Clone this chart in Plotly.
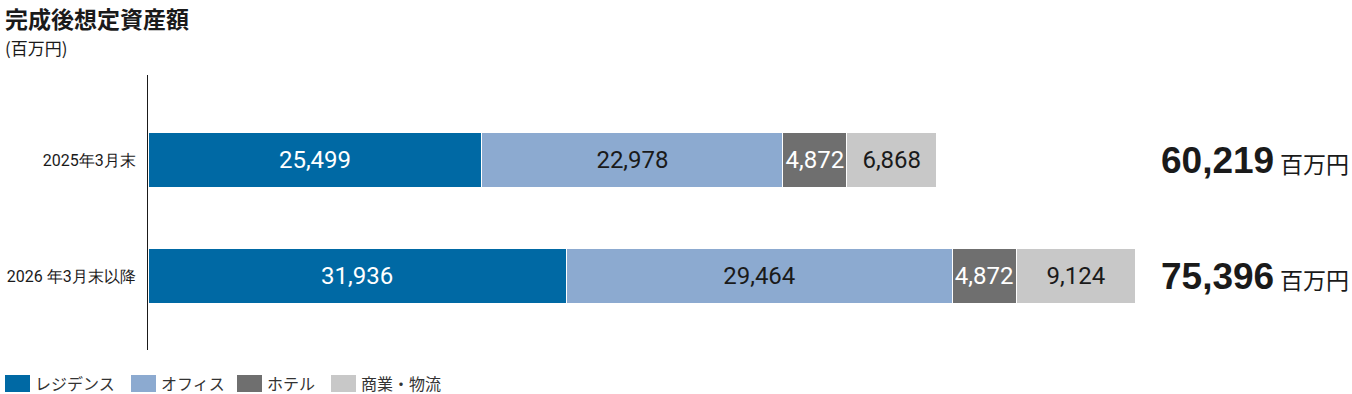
import plotly.graph_objects as go

categories = ["2025年3月末", "2026 年3月末以降"]
series_names = ["レジデンス", "オフィス", "ホテル", "商業・物流"]
residence = [25499, 31936]
office = [22978, 29464]
hotel = [4872, 4872]
commercial = [6868, 9124]
totals = [60219, 75396]
total_unit = "百万円"

colors = ["#0069A4", "#8CAAD0", "#6F6F6F", "#C8C8C8"]
text_colors = ["#FFFFFF", "#1a1a1a", "#FFFFFF", "#1a1a1a"]
series_values = [residence, office, hotel, commercial]

NUM_FONT = "Liberation Sans Narrow, Arial Narrow, Roboto, sans-serif"
JP_FONT = "Noto Sans CJK JP, sans-serif"

W, H = 1352, 394
L, R, T, B = 148, 0, 75, 44
PW, PH = W - L - R, H - T - B


def px_x(px):
    return (px - L) / PW


def px_y(py):
    return (H - B - py) / PH


fig = go.Figure()
for name, vals, col, tcol in zip(series_names, series_values, colors, text_colors):
    fig.add_trace(go.Bar(
        name=name,
        y=[0, 1],
        x=vals,
        orientation="h",
        width=0.474,
        marker=dict(color=col, line=dict(color="white", width=1)),
        text=[f"{v:,}" for v in vals],
        textposition="inside",
        insidetextanchor="middle",
        constraintext="none",
        textfont=dict(family=NUM_FONT, size=24, color=tcol),
        hoverinfo="skip",
        showlegend=False,
    ))

annotations = [
    dict(text="<b>完成後想定資産額</b>", xref="paper", yref="paper",
         x=px_x(3), y=px_y(18), xanchor="left", yanchor="middle",
         showarrow=False, font=dict(family=JP_FONT, size=23, color="#1a1a1a")),
    dict(text="(百万円)", xref="paper", yref="paper",
         x=px_x(3), y=px_y(47), xanchor="left", yanchor="middle",
         showarrow=False, font=dict(family=JP_FONT, size=17, color="#1a1a1a")),
]
for i, t in enumerate(totals):
    annotations.append(dict(
        text=f"<b>{t:,}</b>", xref="paper", yref="y", x=px_x(1276), y=i,
        xanchor="right", yanchor="middle", showarrow=False,
        font=dict(family="Liberation Sans, Arial, sans-serif", size=37, color="#1a1a1a"),
    ))
    annotations.append(dict(
        text=total_unit, xref="paper", yref="y", x=px_x(1278), y=i,
        xanchor="left", yanchor="middle", showarrow=False, yshift=-3,
        font=dict(family=JP_FONT, size=23, color="#1a1a1a"),
    ))

# custom legend (large swatches as in the reference)
legend_x = [5, 131, 237, 331]
shapes = []
for name, col, lx in zip(series_names, colors, legend_x):
    shapes.append(dict(type="rect", xref="paper", yref="paper",
                       x0=px_x(lx), x1=px_x(lx + 25), y0=px_y(392), y1=px_y(375),
                       fillcolor=col, line=dict(width=0)))
    annotations.append(dict(text=name, xref="paper", yref="paper",
                            x=px_x(lx + 28), y=px_y(383), xanchor="left", yanchor="middle",
                            showarrow=False, font=dict(family=JP_FONT, size=16, color="#333333")))

fig.update_layout(
    barmode="stack",
    width=W, height=H,
    margin=dict(l=L, r=R, t=T, b=B, autoexpand=False),
    paper_bgcolor="white", plot_bgcolor="white",
    showlegend=False,
    hovermode=False,
    annotations=annotations,
    shapes=shapes,
    xaxis=dict(range=[0, PW / 0.013098], visible=False, fixedrange=True, automargin=False),
    yaxis=dict(range=[1.638, -0.733], tickmode="array", tickvals=[0, 1], ticktext=categories,
               showgrid=False, zeroline=False, showline=True, linecolor="#1a1a1a", linewidth=1,
               ticks="", ticklabelstandoff=8, automargin=False, fixedrange=True,
               tickfont=dict(family=NUM_FONT, size=16, color="#1a1a1a")),
)

fig.write_html("out.html", config={"displayModeBar": False},
               post_script="document.body.style.margin='0';document.body.style.overflow='hidden';")
